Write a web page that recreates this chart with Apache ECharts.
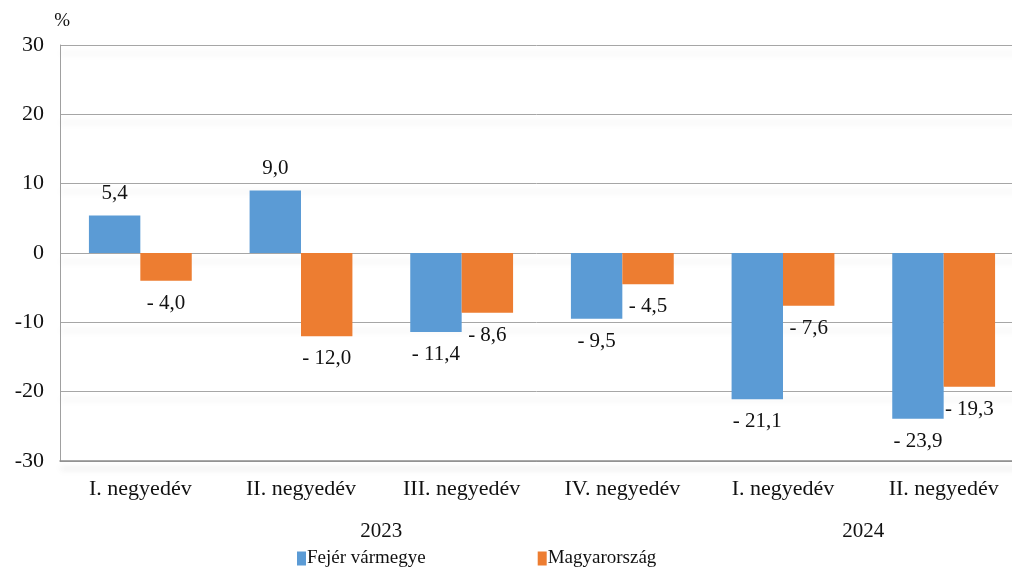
<!DOCTYPE html>
<html>
<head>
<meta charset="utf-8">
<script src="https://cdn.jsdelivr.net/npm/echarts@6/dist/echarts.min.js"></script>
<style>html,body{margin:0;padding:0;background:#fff;overflow:hidden;}#c{width:1012px;height:568px;}</style>
</head>
<body>
<div id="c"></div>
<script>
const categories = ['I. negyedév','II. negyedév','III. negyedév','IV. negyedév','I. negyedév','II. negyedév'];
const years = [{label:'2023', from:0, to:3},{label:'2024', from:4, to:5}];
const fejer = [5.4, 9.0, -11.4, -9.5, -21.1, -23.9];
const magyar = [-4.0, -12.0, -8.6, -4.5, -7.6, -19.3];
const yTicks = {min:-30, max:30, interval:10};

const FONT = 'Liberation Serif';
function fmt(v){
  const s = Math.abs(v).toFixed(1).replace('.', ',');
  return v < 0 ? '- ' + s : s;
}
function mkSeries(name, data, color){
  return {
    name, type:'bar', barGap:'0%', barCategoryGap:'36%',
    itemStyle:{color},
    data: data.map(v => ({value:v, label:{position: v>=0 ? 'top' : 'bottom', distance: 12}})),
    label:{show:true, formatter:p=>fmt(p.value), color:'#111', fontFamily:FONT, fontSize:21},
    emphasis:{disabled:true}
  };
}
const chart = echarts.init(document.getElementById('c'));
chart.setOption({
  animation:false,
  textStyle:{fontFamily:FONT},
  grid:{left:60, width:964, top:45, bottom:107, containLabel:false, outerBoundsMode:'none'},
  legend:{
    bottom:-5, left:292, itemWidth:9, itemHeight:14, itemGap:112,
    icon:'rect',
    textStyle:{fontFamily:FONT, fontSize:19, color:'#111', padding:[0,0,0,-4]},
    data:['Fejér vármegye','Magyarország']
  },
  xAxis:{
    type:'category', data:categories,
    axisLine:{onZero:false, lineStyle:{color:'#8c8c8c', width:1.5, shadowColor:'rgba(0,0,0,0.12)', shadowBlur:6, shadowOffsetY:7}},
    axisTick:{show:false},
    axisLabel:{color:'#111', fontFamily:FONT, fontSize:22, margin:17}
  },
  yAxis:{
    type:'value', min:yTicks.min, max:yTicks.max, interval:yTicks.interval,
    name:'%', nameLocation:'end', nameGap:14,
    nameTextStyle:{color:'#111', fontFamily:FONT, fontSize:19, align:'right', padding:[0,-10,0,0]},
    axisLine:{show:true, lineStyle:{color:'#a0a0a0'}},
    axisTick:{show:false},
    axisLabel:{color:'#111', fontFamily:FONT, fontSize:22, margin:16},
    splitLine:{lineStyle:{color:'#a6a6a6', width:1, shadowColor:'rgba(0,0,0,0.16)', shadowBlur:7, shadowOffsetY:8}}
  },
  series:[mkSeries('Fejér vármegye', fejer, '#5B9BD5'), mkSeries('Magyarország', magyar, '#ED7D31')]
});
function addYears(){
  const els = years.map(y => {
    const x1 = chart.convertToPixel({xAxisIndex:0}, y.from);
    const x2 = chart.convertToPixel({xAxisIndex:0}, y.to);
    return {type:'text', x:(x1+x2)/2, y:531, style:{text:y.label, fill:'#111', font:'21px "Liberation Serif"', align:'center', verticalAlign:'middle'}};
  });
  chart.setOption({graphic:els});
}
addYears();
</script>
</body>
</html>
